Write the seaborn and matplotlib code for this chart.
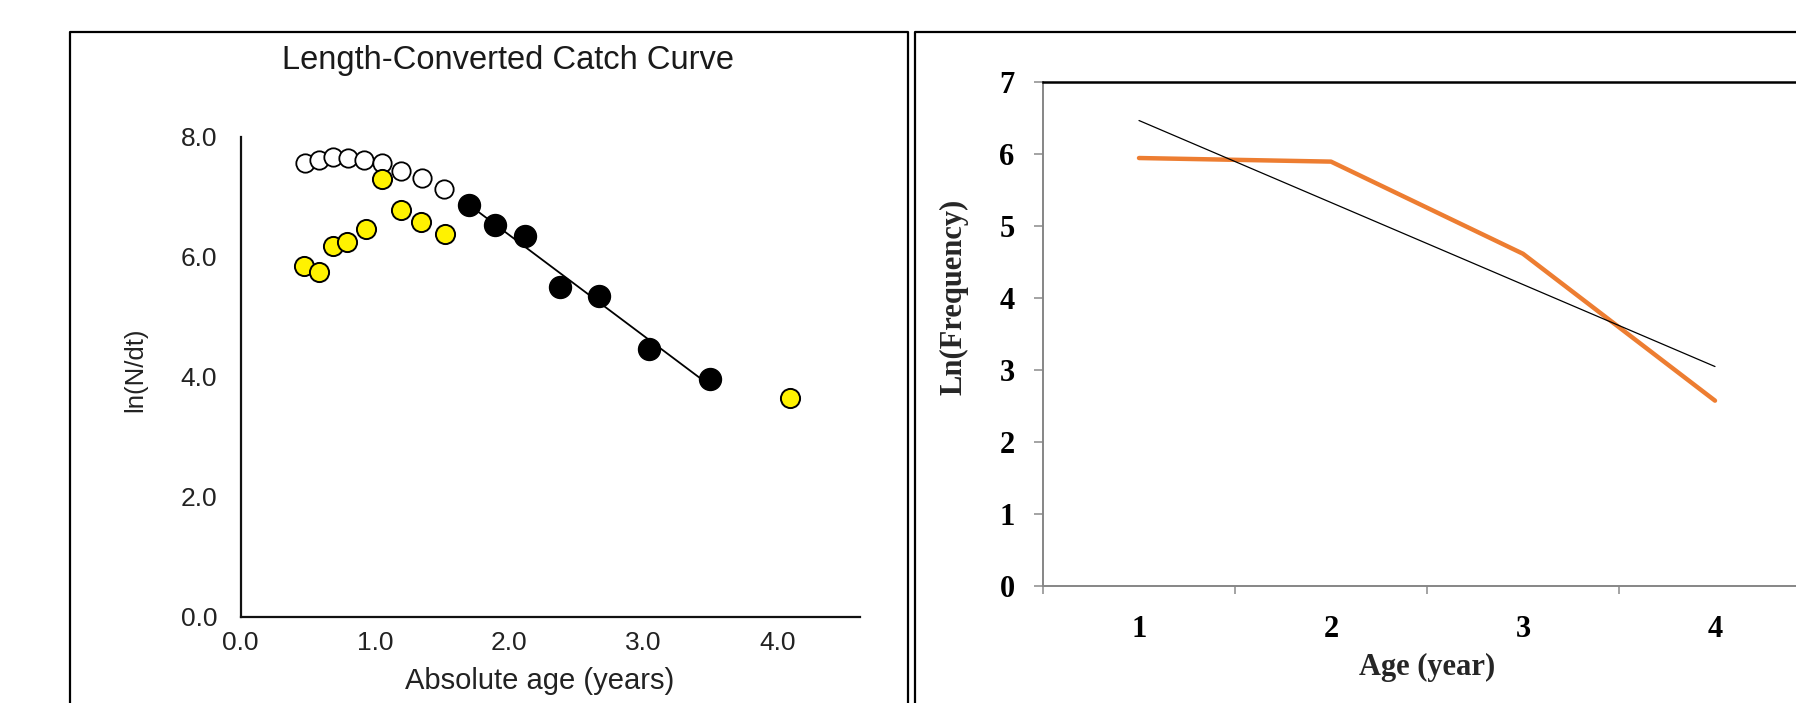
"""
Catch curve figure: FiSAT length-converted catch curve on the left,
ln(frequency) by age with a linear trend on the right.
"""

import matplotlib
matplotlib.use("Agg")
import matplotlib.pyplot as plt
import matplotlib.lines as mlines
import pandas as pd
import seaborn as sns

# ---- left panel data ----
# points left out of the regression (open circles)
open_age = [0.48, 0.58, 0.69, 0.80, 0.92, 1.05, 1.19, 1.35, 1.51]
open_ln = [7.56, 7.62, 7.67, 7.65, 7.62, 7.57, 7.43, 7.31, 7.13]
# yellow points
yellow_age = [0.47, 0.58, 0.69, 0.79, 0.93, 1.05, 1.19, 1.34, 1.52, 4.09]
yellow_ln = [5.85, 5.75, 6.18, 6.25, 6.47, 7.30, 6.78, 6.58, 6.39, 3.64]
# black points used for the regression
black_age = [1.70, 1.89, 2.12, 2.38, 2.67, 3.04, 3.49]
black_ln = [6.86, 6.54, 6.35, 5.50, 5.35, 4.46, 3.96]

left_xticks = [0, 1, 2, 3, 4]
left_yticks = [0, 2, 4, 6, 8]

# ---- right panel data ----
age_years = [1, 2, 3, 4]
ln_freq = [5.94, 5.89, 4.61, 2.57]
right_yticks = [0, 1, 2, 3, 4, 5, 6, 7]

W, H = 1796, 703

sns.set_theme(style="white")
plt.rcParams["font.family"] = ["Liberation Sans", "DejaVu Sans"]

fig = plt.figure(figsize=(W / 100, H / 100), dpi=100)

# picture borders around both panels
top = 1 - 32 / H
fig.add_artist(mlines.Line2D([70 / W, 70 / W, 908 / W, 908 / W], [-0.02, top, top, -0.02],
                             color="black", lw=1.6, transform=fig.transFigure))
fig.add_artist(mlines.Line2D([915 / W, 915 / W, 1.02], [-0.02, top, top],
                             color="black", lw=1.6, transform=fig.transFigure))

######################
#    LEFT PANEL      #
######################
ax1 = fig.add_axes([240.7 / W, 1 - 616.7 / H, (860 - 240.7) / W, (616.7 - 137) / H])
ax1.set_facecolor("none")

df_open = pd.DataFrame({"age": open_age, "ln": open_ln})
df_yellow = pd.DataFrame({"age": yellow_age, "ln": yellow_ln})
df_black = pd.DataFrame({"age": black_age, "ln": black_ln})

sns.regplot(data=df_black, x="age", y="ln", ax=ax1, ci=None, color="black",
            scatter_kws=dict(s=250, edgecolor="black", linewidths=1.0, alpha=1, zorder=4),
            line_kws=dict(color="black", lw=1.3, zorder=3))
sns.scatterplot(data=df_open, x="age", y="ln", ax=ax1, color="white",
                edgecolor="black", linewidth=1.3, s=175, zorder=3)
sns.scatterplot(data=df_yellow, x="age", y="ln", ax=ax1, color="#FFF200",
                edgecolor="black", linewidth=1.4, s=190, zorder=4)

ax1.set_xlim(0, 4.61)
ax1.set_ylim(0, 8)
ax1.set_xticks(left_xticks)
ax1.set_xticklabels([f"{v:.1f}" for v in left_xticks])
ax1.set_yticks(left_yticks)
ax1.set_yticklabels([f"{v:.1f}" for v in left_yticks])
for side in ["top", "right"]:
    ax1.spines[side].set_visible(False)
for side in ["left", "bottom"]:
    ax1.spines[side].set_color("#111111")
    ax1.spines[side].set_linewidth(1.6)
ax1.tick_params(axis="y", direction="in", length=10, width=1.6, color="#111111",
                labelsize=19, pad=17, labelcolor="#222222")
ax1.tick_params(axis="x", direction="in", length=7, width=1.6, color="#111111",
                labelsize=19, pad=10, labelcolor="#222222")
ax1.set_xlabel("Absolute age (years)", fontsize=21, color="#222222")
ax1.set_ylabel("ln(N/dt)", fontsize=18.5, color="#222222")
ax1.xaxis.label.set_verticalalignment("center")
ax1.yaxis.label.set_verticalalignment("center")
ax1.xaxis.set_label_coords(0.483, -0.134)
ax1.yaxis.set_label_coords(-0.171, 0.514)

fig.text(508 / W, 1 - 60 / H, "Length-Converted Catch Curve", fontsize=23.5,
         ha="center", va="center", color="#1a1a1a")

######################
#    RIGHT PANEL     #
######################
serif = dict(fontfamily="Liberation Serif", fontweight="bold", fontsize=22)

ax2 = fig.add_axes([1043 / W, 1 - 585.7 / H, 768 / W, 504 / H])
df_age = pd.DataFrame({"age": age_years, "lnfreq": ln_freq})

sns.lineplot(data=df_age, x="age", y="lnfreq", ax=ax2, color="#ED7D31", lw=3.2)
sns.regplot(data=df_age, x="age", y="lnfreq", ax=ax2, ci=None, scatter=False,
            truncate=True, line_kws=dict(color="black", lw=0.9))

ax2.set_xlim(0.5, 4.5)
ax2.set_ylim(0, 7)
ax2.set_xticks(age_years)
ax2.set_xticklabels([str(a) for a in age_years], **serif)
ax2.set_xticks([a - 0.5 for a in age_years] + [4.5], minor=True)
ax2.set_yticks(right_yticks)
ax2.set_yticklabels([str(v) for v in right_yticks], **serif)
ax2.tick_params(axis="x", which="major", length=0, pad=21, labelcolor="black")
ax2.tick_params(axis="x", which="minor", direction="out", length=6, width=1.1,
                color="#8a8a8a", bottom=True)
ax2.tick_params(axis="y", direction="out", length=6.5, width=1.1, color="#8a8a8a",
                pad=14, left=True, labelcolor="black")
for side in ["left", "bottom"]:
    ax2.spines[side].set_color("#868686")
    ax2.spines[side].set_linewidth(1.4)
ax2.spines["top"].set_color("black")
ax2.spines["top"].set_linewidth(1.8)
ax2.spines["right"].set_visible(False)

ax2.set_xlabel("Age (year)", **serif)
ax2.set_ylabel("Ln(Frequency)", **serif)
ax2.xaxis.label.set_verticalalignment("center")
ax2.yaxis.label.set_verticalalignment("center")
ax2.xaxis.set_label_coords(0.5, -0.163)
ax2.yaxis.set_label_coords(-0.116, 0.573)

fig.savefig("out.png", dpi=100)
